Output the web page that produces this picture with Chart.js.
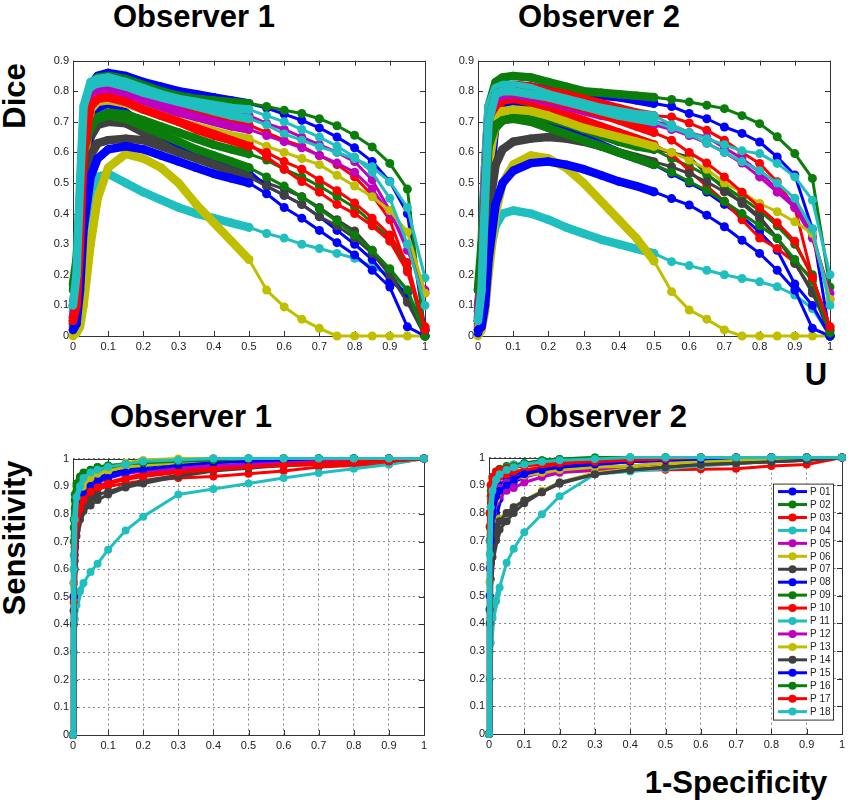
<!DOCTYPE html>
<html><head><meta charset="utf-8">
<script src="https://cdn.jsdelivr.net/npm/chart.js@4.4.0/dist/chart.umd.min.js"></script>
<style>
html,body{margin:0;padding:0;background:#fff;}
body{width:851px;height:804px;position:relative;overflow:hidden;font-family:"Liberation Sans",Arial,sans-serif;}
canvas{position:absolute;}
.lbl{position:absolute;font-weight:bold;font-size:31px;line-height:31px;color:#000;white-space:nowrap;text-align:center;width:300px;}
.rot{position:absolute;font-weight:bold;font-size:31px;line-height:31px;color:#000;white-space:nowrap;transform:translate(-50%,-50%) rotate(-90deg);}
</style></head><body>
<div class="lbl" style="left:44px;top:1px">Observer 1</div>
<div class="lbl" style="left:449px;top:1px">Observer 2</div>
<div class="lbl" style="left:41px;top:401px">Observer 1</div>
<div class="lbl" style="left:456px;top:401px">Observer 2</div>
<div class="lbl" style="left:666px;top:359px">U</div>
<div class="lbl" style="left:586px;top:767px">1-Specificity</div>
<div class="rot" style="left:14px;top:96px">Dice</div>
<div class="rot" style="left:14px;top:538px">Sensitivity</div>
<canvas id="c1" width="400" height="310" style="left:35px;top:50px"></canvas>
<canvas id="c2" width="400" height="310" style="left:440px;top:50px"></canvas>
<canvas id="c3" width="400" height="310" style="left:35px;top:448px"></canvas>
<canvas id="c4" width="406" height="310" style="left:445px;top:447px"></canvas>
<script>
// ---------- data ----------
const patients = ['P 01','P 02','P 03','P 04','P 05','P 06','P 07','P 08','P 09','P 10','P 11','P 12','P 13','P 14','P 15','P 16','P 17','P 18'];
const diceX = [0,0.01,0.02,0.03,0.05,0.07,0.1,0.15,0.2,0.25,0.3,0.35,0.4,0.45,0.5,0.55,0.6,0.65,0.7,0.75,0.8,0.85,0.9,0.95,1];
const rocX = [0,0.002,0.005,0.01,0.02,0.03,0.05,0.07,0.1,0.15,0.2,0.3,0.4,0.5,0.6,0.7,0.8,0.9,1];
const diceTicks = [0,0.1,0.2,0.3,0.4,0.5,0.6,0.7,0.8,0.9];
const unitTicks = [0,0.1,0.2,0.3,0.4,0.5,0.6,0.7,0.8,0.9,1];

// Dice vs U, Observer 1 (one row per patient, at diceX)
const diceObs1 = [
 [0.03,0.08,0.30,0.60,0.82,0.85,0.86,0.85,0.83,0.815,0.80,0.79,0.78,0.77,0.76,0.745,0.725,0.705,0.68,0.65,0.615,0.57,0.505,0.40,0.02],
 [0.17,0.25,0.45,0.70,0.82,0.845,0.85,0.84,0.82,0.80,0.785,0.775,0.77,0.765,0.76,0.75,0.738,0.727,0.71,0.687,0.656,0.618,0.564,0.48,0.0],
 [0.06,0.12,0.30,0.55,0.76,0.795,0.80,0.79,0.77,0.755,0.74,0.725,0.71,0.70,0.69,0.665,0.64,0.62,0.59,0.56,0.52,0.46,0.38,0.22,0.03],
 [0.10,0.13,0.22,0.33,0.47,0.52,0.53,0.50,0.47,0.445,0.42,0.40,0.385,0.37,0.355,0.335,0.32,0.30,0.286,0.27,0.254,0.226,0.20,0.15,0.02],
 [0.05,0.10,0.35,0.65,0.78,0.80,0.81,0.80,0.785,0.77,0.76,0.75,0.74,0.73,0.72,0.695,0.675,0.65,0.625,0.60,0.57,0.51,0.41,0.28,0.15],
 [0.0,0.01,0.03,0.10,0.30,0.45,0.55,0.595,0.58,0.55,0.50,0.43,0.37,0.31,0.25,0.15,0.095,0.055,0.025,0.0,0.0,0.0,0.0,0.0,0.0],
 [0.05,0.10,0.30,0.50,0.65,0.69,0.70,0.695,0.665,0.64,0.615,0.595,0.575,0.555,0.525,0.50,0.48,0.455,0.42,0.38,0.343,0.28,0.21,0.12,0.02],
 [0.02,0.06,0.25,0.50,0.70,0.745,0.76,0.73,0.69,0.66,0.63,0.605,0.58,0.56,0.54,0.49,0.46,0.43,0.39,0.345,0.30,0.25,0.18,0.14,0.02],
 [0.10,0.20,0.40,0.60,0.68,0.715,0.73,0.725,0.705,0.685,0.665,0.645,0.625,0.61,0.595,0.575,0.545,0.52,0.49,0.455,0.42,0.37,0.32,0.22,0.0],
 [0.04,0.08,0.25,0.50,0.74,0.78,0.79,0.775,0.75,0.725,0.70,0.675,0.655,0.64,0.63,0.585,0.545,0.505,0.47,0.43,0.40,0.36,0.31,0.21,0.03],
 [0.08,0.15,0.45,0.72,0.81,0.825,0.83,0.815,0.795,0.78,0.765,0.75,0.735,0.72,0.71,0.69,0.66,0.64,0.618,0.60,0.58,0.553,0.504,0.42,0.19],
 [0.06,0.12,0.40,0.68,0.78,0.795,0.80,0.785,0.765,0.745,0.73,0.715,0.70,0.685,0.675,0.655,0.635,0.615,0.59,0.565,0.535,0.48,0.40,0.30,0.14],
 [0.02,0.06,0.25,0.55,0.74,0.765,0.77,0.76,0.74,0.72,0.70,0.685,0.67,0.655,0.645,0.62,0.60,0.58,0.56,0.525,0.49,0.455,0.41,0.34,0.14],
 [0.04,0.08,0.25,0.45,0.59,0.63,0.64,0.645,0.64,0.62,0.60,0.58,0.56,0.54,0.52,0.49,0.46,0.43,0.39,0.36,0.32,0.27,0.20,0.11,0.0],
 [0.02,0.04,0.15,0.35,0.52,0.58,0.61,0.62,0.61,0.59,0.57,0.55,0.53,0.515,0.50,0.465,0.42,0.385,0.345,0.305,0.265,0.215,0.16,0.03,0.0],
 [0.15,0.22,0.40,0.60,0.69,0.71,0.72,0.71,0.685,0.66,0.635,0.61,0.59,0.57,0.55,0.52,0.49,0.455,0.415,0.375,0.33,0.28,0.22,0.15,0.0],
 [0.05,0.10,0.30,0.60,0.75,0.775,0.78,0.765,0.74,0.72,0.70,0.68,0.66,0.64,0.62,0.60,0.57,0.545,0.51,0.475,0.435,0.385,0.33,0.24,0.02],
 [0.10,0.20,0.50,0.75,0.83,0.84,0.845,0.83,0.81,0.79,0.775,0.765,0.755,0.745,0.74,0.72,0.70,0.675,0.65,0.62,0.585,0.535,0.45,0.30,0.10]
];

// Dice vs U, Observer 2
const diceObs2 = [
 [0.02,0.10,0.45,0.70,0.80,0.815,0.82,0.815,0.805,0.795,0.79,0.785,0.78,0.77,0.76,0.75,0.727,0.71,0.683,0.662,0.634,0.585,0.526,0.35,0.0],
 [0.15,0.30,0.55,0.75,0.83,0.845,0.85,0.845,0.83,0.815,0.80,0.795,0.79,0.785,0.78,0.773,0.765,0.754,0.743,0.72,0.694,0.651,0.596,0.515,0.16],
 [0.05,0.12,0.30,0.60,0.78,0.81,0.82,0.815,0.80,0.79,0.775,0.76,0.745,0.73,0.72,0.716,0.696,0.672,0.64,0.60,0.564,0.504,0.42,0.19,0.03],
 [0.05,0.08,0.15,0.25,0.36,0.40,0.41,0.40,0.38,0.355,0.335,0.315,0.30,0.285,0.27,0.243,0.23,0.215,0.20,0.188,0.177,0.161,0.134,0.09,0.0],
 [0.05,0.15,0.50,0.72,0.78,0.795,0.80,0.79,0.775,0.76,0.745,0.73,0.715,0.705,0.70,0.69,0.665,0.65,0.615,0.58,0.535,0.48,0.433,0.33,0.14],
 [0.0,0.02,0.08,0.20,0.40,0.50,0.56,0.59,0.58,0.55,0.50,0.44,0.38,0.32,0.245,0.145,0.085,0.055,0.02,0.0,0.0,0.0,0.0,0.0,0.0],
 [0.03,0.08,0.25,0.50,0.70,0.745,0.76,0.75,0.73,0.71,0.69,0.67,0.65,0.63,0.61,0.60,0.585,0.53,0.482,0.433,0.384,0.319,0.237,0.15,0.0],
 [0.01,0.05,0.20,0.45,0.70,0.74,0.75,0.73,0.70,0.675,0.65,0.625,0.60,0.58,0.56,0.53,0.50,0.47,0.43,0.39,0.34,0.28,0.17,0.10,0.0],
 [0.10,0.20,0.40,0.60,0.68,0.705,0.715,0.72,0.71,0.695,0.675,0.655,0.635,0.62,0.61,0.58,0.555,0.525,0.49,0.45,0.41,0.36,0.30,0.20,0.0],
 [0.04,0.10,0.28,0.55,0.74,0.77,0.775,0.765,0.745,0.725,0.705,0.685,0.665,0.645,0.625,0.595,0.54,0.49,0.44,0.38,0.32,0.286,0.24,0.19,0.02],
 [0.06,0.20,0.55,0.75,0.81,0.82,0.82,0.81,0.79,0.775,0.76,0.745,0.735,0.725,0.72,0.69,0.665,0.645,0.625,0.605,0.596,0.564,0.52,0.444,0.20],
 [0.08,0.20,0.50,0.70,0.775,0.785,0.79,0.78,0.765,0.75,0.735,0.72,0.71,0.70,0.69,0.675,0.655,0.63,0.60,0.565,0.52,0.47,0.42,0.32,0.12],
 [0.02,0.08,0.30,0.55,0.70,0.735,0.74,0.735,0.72,0.70,0.68,0.665,0.65,0.635,0.62,0.60,0.575,0.545,0.50,0.47,0.433,0.406,0.373,0.335,0.12],
 [0.05,0.10,0.22,0.40,0.56,0.61,0.635,0.645,0.65,0.645,0.635,0.62,0.60,0.585,0.569,0.553,0.531,0.504,0.471,0.438,0.39,0.319,0.24,0.14,0.02],
 [0.02,0.03,0.10,0.25,0.43,0.50,0.54,0.565,0.57,0.56,0.545,0.525,0.505,0.49,0.471,0.449,0.428,0.395,0.357,0.313,0.27,0.215,0.15,0.025,0.0],
 [0.15,0.25,0.45,0.62,0.69,0.705,0.71,0.70,0.68,0.66,0.64,0.62,0.60,0.58,0.56,0.535,0.505,0.475,0.44,0.40,0.36,0.32,0.25,0.18,0.01],
 [0.06,0.15,0.45,0.70,0.79,0.80,0.80,0.79,0.775,0.76,0.745,0.725,0.705,0.685,0.665,0.64,0.60,0.565,0.52,0.47,0.42,0.37,0.31,0.19,0.03],
 [0.05,0.15,0.45,0.70,0.79,0.80,0.80,0.79,0.78,0.765,0.75,0.735,0.72,0.71,0.70,0.68,0.66,0.63,0.60,0.57,0.54,0.50,0.45,0.35,0.10]
];

// Sensitivity vs 1-Specificity, Observer 1 (at rocX)
const rocObs1 = [
 [0,0.55,0.72,0.80,0.85,0.87,0.90,0.92,0.94,0.96,0.97,0.99,1,1,1,1,1,1,1],
 [0,0.75,0.85,0.90,0.93,0.945,0.955,0.965,0.97,0.975,0.98,0.985,0.99,0.99,0.995,0.995,1,1,1],
 [0,0.45,0.65,0.76,0.81,0.84,0.87,0.89,0.90,0.91,0.92,0.93,0.935,0.945,0.955,0.97,0.975,0.98,1],
 [0,0.30,0.42,0.47,0.52,0.55,0.59,0.62,0.67,0.74,0.79,0.87,0.89,0.91,0.93,0.948,0.963,0.979,1],
 [0,0.50,0.70,0.80,0.85,0.87,0.89,0.90,0.91,0.925,0.94,0.955,0.965,0.975,0.98,0.985,0.99,1,1],
 [0,0.60,0.78,0.86,0.90,0.92,0.945,0.96,0.97,0.985,0.995,1,1,1,1,1,1,1,1],
 [0,0.40,0.60,0.72,0.78,0.81,0.83,0.85,0.87,0.895,0.91,0.935,0.955,0.965,0.975,0.98,0.985,0.99,1],
 [0,0.50,0.70,0.80,0.86,0.88,0.91,0.93,0.945,0.96,0.97,0.985,0.99,0.995,1,1,1,1,1],
 [0,0.70,0.82,0.88,0.92,0.94,0.955,0.96,0.965,0.975,0.98,0.985,0.99,0.995,0.995,1,1,1,1],
 [0,0.50,0.70,0.78,0.83,0.86,0.885,0.90,0.915,0.93,0.945,0.96,0.97,0.98,0.985,0.99,0.995,1,1],
 [0,0.65,0.80,0.87,0.92,0.94,0.96,0.97,0.975,0.98,0.985,0.99,0.995,1,1,1,1,1,1],
 [0,0.55,0.72,0.80,0.85,0.875,0.90,0.915,0.93,0.945,0.955,0.965,0.975,0.98,0.99,0.995,1,1,1],
 [0,0.55,0.75,0.83,0.87,0.90,0.93,0.945,0.955,0.97,0.975,0.985,0.99,0.995,1,1,1,1,1],
 [0,0.45,0.63,0.74,0.80,0.83,0.855,0.87,0.88,0.90,0.92,0.94,0.96,0.97,0.975,0.98,0.985,0.99,1],
 [0,0.50,0.68,0.78,0.84,0.87,0.90,0.915,0.93,0.95,0.96,0.975,0.985,0.99,0.995,1,1,1,1],
 [0,0.78,0.87,0.91,0.935,0.95,0.96,0.97,0.975,0.98,0.985,0.99,0.995,1,1,1,1,1,1],
 [0,0.48,0.68,0.77,0.82,0.85,0.88,0.895,0.91,0.925,0.935,0.95,0.96,0.97,0.975,0.98,0.985,0.99,1],
 [0,0.60,0.78,0.86,0.90,0.93,0.95,0.96,0.97,0.98,0.99,0.995,1,1,1,1,1,1,1]
];

// Sensitivity vs 1-Specificity, Observer 2
const rocObs2 = [
 [0,0.45,0.62,0.72,0.80,0.85,0.89,0.91,0.93,0.95,0.96,0.975,0.985,0.99,0.995,1,1,1,1],
 [0,0.80,0.90,0.93,0.95,0.96,0.97,0.975,0.98,0.985,0.99,0.995,0.995,1,1,1,1,1,1],
 [0,0.70,0.82,0.87,0.89,0.90,0.915,0.925,0.935,0.945,0.95,0.952,0.954,0.956,0.958,0.96,0.97,0.975,1],
 [0,0.20,0.33,0.42,0.48,0.53,0.62,0.67,0.73,0.795,0.86,0.94,0.95,0.96,0.97,0.978,0.985,0.99,1],
 [0,0.55,0.72,0.80,0.84,0.86,0.88,0.89,0.91,0.93,0.945,0.955,0.965,0.975,0.98,0.99,0.995,1,1],
 [0,0.50,0.66,0.72,0.76,0.78,0.80,0.82,0.845,0.88,0.91,0.945,0.96,0.97,0.98,0.985,0.99,0.995,1],
 [0,0.40,0.56,0.64,0.70,0.74,0.77,0.80,0.835,0.875,0.905,0.94,0.955,0.965,0.975,0.98,0.985,0.99,1],
 [0,0.60,0.75,0.82,0.87,0.90,0.92,0.935,0.95,0.96,0.97,0.98,0.99,0.995,1,1,1,1,1],
 [0,0.75,0.86,0.90,0.93,0.945,0.96,0.97,0.975,0.985,0.99,0.995,1,1,1,1,1,1,1],
 [0,0.75,0.86,0.90,0.92,0.93,0.94,0.95,0.955,0.965,0.975,0.99,0.995,1,1,1,1,1,1],
 [0,0.70,0.85,0.90,0.93,0.95,0.965,0.975,0.98,0.99,0.995,1,1,1,1,1,1,1,1],
 [0,0.60,0.76,0.83,0.87,0.89,0.91,0.92,0.93,0.945,0.955,0.965,0.97,0.98,0.99,0.995,1,1,1],
 [0,0.55,0.72,0.80,0.85,0.88,0.90,0.92,0.935,0.945,0.955,0.965,0.97,0.98,0.985,0.99,0.995,1,1],
 [0,0.45,0.62,0.70,0.75,0.77,0.80,0.82,0.845,0.875,0.91,0.94,0.955,0.965,0.975,0.98,0.985,0.99,1],
 [0,0.50,0.70,0.80,0.86,0.88,0.90,0.92,0.94,0.955,0.965,0.975,0.985,0.99,0.995,1,1,1,1],
 [0,0.80,0.88,0.92,0.94,0.955,0.965,0.97,0.98,0.99,0.995,1,1,1,1,1,1,1,1],
 [0,0.80,0.90,0.93,0.95,0.955,0.96,0.965,0.97,0.975,0.98,0.985,0.99,0.995,1,1,1,1,1],
 [0,0.65,0.82,0.88,0.92,0.94,0.955,0.965,0.975,0.985,0.99,0.995,1,1,1,1,1,1,1]
];

// ---------- styles ----------
const seriesColors = ['#0000ff','#0a7d0a','#ff0000','#1fbfbf','#bf00bf','#bfbf00','#404040',
                      '#0000ff','#0a7d0a','#ff0000','#1fbfbf','#bf00bf','#bfbf00','#404040',
                      '#0000ff','#0a7d0a','#ff0000','#1fbfbf'];
const FONT = '"Liberation Sans", Arial, sans-serif';

function buildDatasets(xs, rows, kind){
  return rows.map((row, i) => ({
    label: patients[i],
    data: row.map((v, j) => ({x: xs[j], y: v})),
    borderColor: seriesColors[i],
    backgroundColor: seriesColors[i],
    pointBackgroundColor: seriesColors[i],
    pointBorderColor: seriesColors[i],
    pointBorderWidth: 0,
    pointRadius: kind === 'dice' ? (c => (c.raw && c.raw.x < 0.499) ? 4.2 : 4.5) : 4,
    borderWidth: 3,
    segment: kind === 'dice'
      ? {borderWidth: c => c.p0.parsed.x < 0.499 ? 8.5 : 3}
      : {borderWidth: c => c.p0.parsed.x < 0.029 ? 5.5 : 3},
    borderJoinStyle: 'round',
    borderCapStyle: 'round',
    tension: 0,
    clip: false,
    order: rows.length - i
  }));
}

const framePlugin = {
  id: 'frame',
  beforeDatasetsDraw(chart){
    const {ctx, chartArea: a, scales} = chart;
    ctx.save();
    ctx.strokeStyle = '#333';
    ctx.lineWidth = 1;
    ctx.strokeRect(Math.round(a.left) + 0.5, Math.round(a.top) + 0.5, Math.round(a.width), Math.round(a.height));
    ctx.beginPath();
    scales.x.ticks.forEach(t => {
      const px = Math.round(scales.x.getPixelForValue(t.value)) + 0.5;
      ctx.moveTo(px, a.bottom); ctx.lineTo(px, a.bottom - 5);
      ctx.moveTo(px, a.top); ctx.lineTo(px, a.top + 5);
    });
    scales.y.ticks.forEach(t => {
      const py = Math.round(scales.y.getPixelForValue(t.value)) + 0.5;
      ctx.moveTo(a.left, py); ctx.lineTo(a.left + 5, py);
      ctx.moveTo(a.right, py); ctx.lineTo(a.right - 5, py);
    });
    ctx.stroke();
    ctx.restore();
  }
};

const legendPlugin = {
  id: 'boxLegend',
  afterDraw(chart){
    const {ctx, chartArea: a} = chart;
    const bx = a.right - 69, by = a.top + 26, bw = 60, bh = 236;
    ctx.save();
    ctx.fillStyle = '#fff';
    ctx.fillRect(bx, by, bw, bh);
    ctx.strokeStyle = '#333';
    ctx.lineWidth = 1;
    ctx.strokeRect(bx + 0.5, by + 0.5, bw, bh);
    const n = chart.data.datasets.length;
    const step = (bh - 16) / (n - 1);
    ctx.font = '10px ' + FONT;
    ctx.textBaseline = 'middle';
    chart.data.datasets.forEach((ds, i) => {
      const yc = by + 8 + i * step;
      ctx.strokeStyle = ds.borderColor;
      ctx.lineWidth = 3;
      ctx.beginPath(); ctx.moveTo(bx + 5, yc); ctx.lineTo(bx + 34, yc); ctx.stroke();
      ctx.fillStyle = ds.borderColor;
      ctx.beginPath(); ctx.arc(bx + 19.5, yc, 4, 0, Math.PI * 2); ctx.fill();
      ctx.fillStyle = '#222';
      ctx.fillText(ds.label, bx + 37, yc + 0.5);
    });
    ctx.restore();
  }
};

function scaleOpts(ticksArr, maxV, gridOn, size, fitProp){
  return {
    type: 'linear',
    min: 0, max: maxV,
    afterBuildTicks: s => { s.ticks = ticksArr.map(v => ({value: v})); },
    afterFit: s => { s[fitProp] = size; },
    ticks: {
      autoSkip: false, maxRotation: 0, padding: 4, color: '#222',
      font: {family: FONT, size: 11},
      callback: v => String(Math.round(v * 10) / 10)
    },
    grid: gridOn ? {display: true, color: '#8a8a8a', lineWidth: 1, drawTicks: false}
                 : {display: false, drawTicks: false},
    border: {display: false, dash: [2, 3]}
  };
}

function makeChart(id, xs, rows, kind, yTicks, yMax, grid, yW, xH, padTop, padRight, extraPlugins){
  new Chart(document.getElementById(id), {
    type: 'line',
    data: {datasets: buildDatasets(xs, rows, kind)},
    options: {
      responsive: false,
      animation: false,
      events: [],
      layout: {padding: {top: padTop, right: padRight, left: 0, bottom: 0}},
      plugins: {legend: {display: false}, tooltip: {enabled: false}},
      scales: {
        x: scaleOpts(unitTicks, 1, grid, xH, 'height'),
        y: scaleOpts(yTicks, yMax, grid, yW, 'width')
      }
    },
    plugins: [framePlugin].concat(extraPlugins || [])
  });
}

makeChart('c1', diceX, diceObs1, 'dice', diceTicks, 0.9, false, 38, 24, 10, 10);
makeChart('c2', diceX, diceObs2, 'dice', diceTicks, 0.9, false, 38, 24, 10, 10);
makeChart('c3', rocX, rocObs1, 'roc', unitTicks, 1, true, 38, 23, 10, 11);
makeChart('c4', rocX, rocObs2, 'roc', unitTicks, 1, true, 44, 23, 10, 9, [legendPlugin]);
</script>
</body></html>
